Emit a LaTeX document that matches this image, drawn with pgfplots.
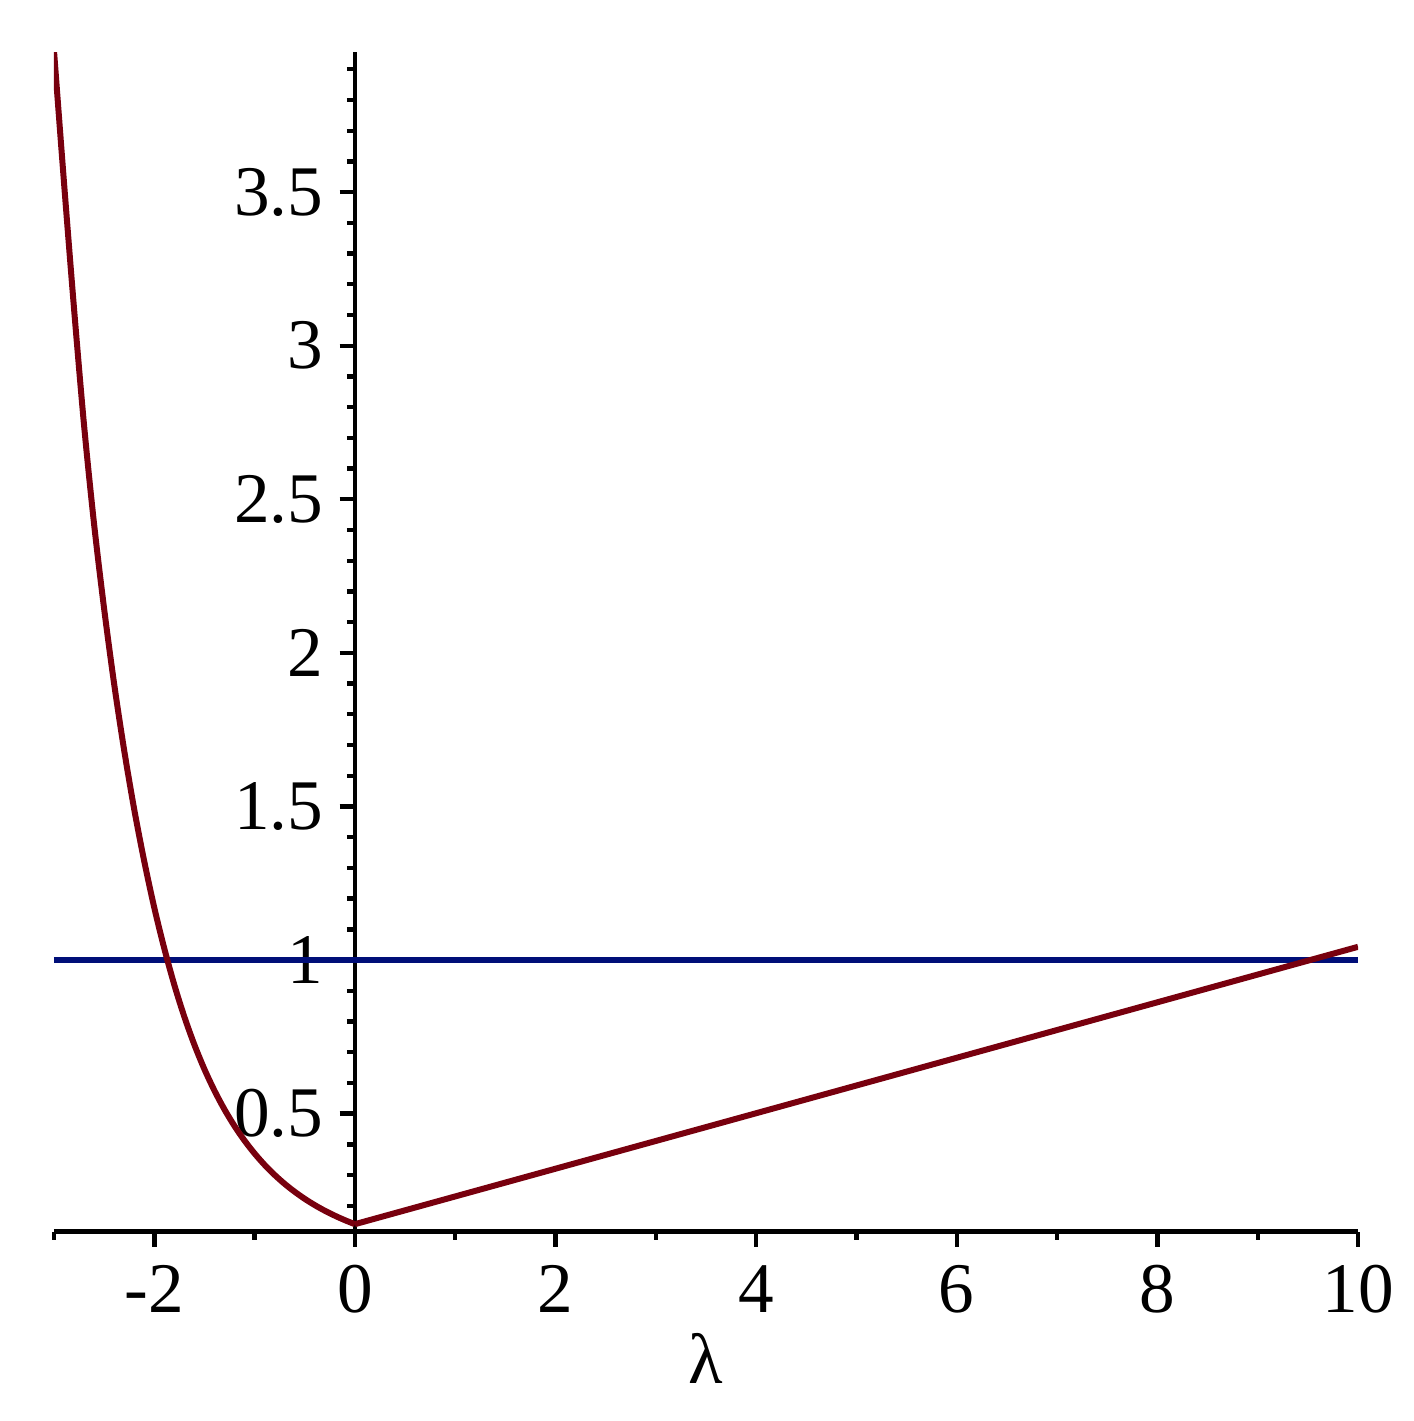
\documentclass[border=0pt]{standalone}
\usepackage{fontspec}
\setmainfont{Liberation Serif}
\usepackage{pgfplots}
\pgfplotsset{compat=1.18}
\definecolor{mred}{HTML}{78000E}
\definecolor{mblue}{HTML}{000E78}
\begin{document}
\begin{tikzpicture}
\useasboundingbox (-13.5pt,-47.325pt) rectangle (339.75pt,307.925pt);
\begin{axis}[
  at={(0pt,0pt)}, anchor=south west,
  scale only axis, width=326pt, height=294.9pt,
  xmin=-3, xmax=10, ymin=0.1155, ymax=3.956,
  axis x line*=bottom, axis y line*=middle,
  axis line style={line width=1.2pt, black},
  xtick={-2,0,2,4,6,8,10},
  xticklabels={-2,0,2,4,6,8,10},
  minor xtick={-3,-1,1,3,5,7,9},
  ytick={0.5,1,1.5,2,2.5,3,3.5},
  yticklabels={0.5,1,1.5,2,2.5,3,3.5},
  minor ytick={0.2,0.3,0.4,0.6,0.7,0.8,0.9,1.1,1.2,1.3,1.4,1.6,1.7,1.8,1.9,2.1,2.2,2.3,2.4,2.6,2.7,2.8,2.9,3.1,3.2,3.3,3.4,3.6,3.7,3.8,3.9},
  tick align=outside,
  major tick length=3.8pt, minor tick length=2pt,
  every tick/.style={black, line width=1.1pt},
  tick label style={font=\fontsize{17.8}{20}\selectfont, inner sep=0pt},
  xticklabel style={anchor=center, yshift=-10.5pt},
  yticklabel style={anchor=east, xshift=-3.9pt},
  xlabel={λ},
  x label style={font=\fontsize{17.8}{20}\selectfont, inner sep=0pt, at={(axis description cs:0.5,0)}, anchor=center, yshift=-31.8pt},
]
\addplot[mblue, line width=1.4pt] coordinates {(-3,1) (10,1)};
\addplot[mred, line width=1.5pt, smooth, line join=round] coordinates {
(-3.0,3.96) (-2.9,3.53) (-2.8,3.12) (-2.7,2.74) (-2.6,2.418) (-2.5,2.143)
(-2.4,1.898) (-2.3,1.682) (-2.2,1.490) (-2.1,1.321) (-2.0,1.170) (-1.9,1.037)
(-1.8,0.9185) (-1.7,0.8146) (-1.6,0.7238) (-1.5,0.6442) (-1.4,0.5745) (-1.3,0.5132)
(-1.2,0.4593) (-1.1,0.4118) (-1.0,0.3700) (-0.9,0.3329) (-0.8,0.3002) (-0.7,0.2711)
(-0.6,0.2454) (-0.5,0.2224) (-0.4,0.2020) (-0.3,0.1838) (-0.2,0.1676) (-0.1,0.1530)
(0,0.1400)};
\addplot[mred, line width=1.5pt, line join=round] coordinates {(0,0.1400) (10,1.043)};
\end{axis}
\end{tikzpicture}
\end{document}
